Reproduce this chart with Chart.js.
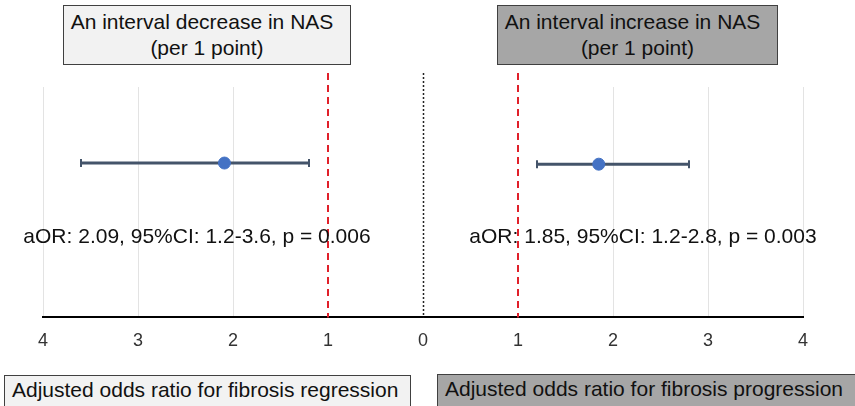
<!DOCTYPE html>
<html>
<head>
<meta charset="utf-8">
<script src="https://cdn.jsdelivr.net/npm/chart.js@4.4.1/dist/chart.umd.min.js"></script>
<style>
  html, body { margin: 0; padding: 0; background: #fff; }
  #wrap { position: relative; width: 855px; height: 406px; overflow: hidden; font-family: "Liberation Sans", Arial, sans-serif; }
  canvas { position: absolute; left: 0; top: 0; }
  .box { position: absolute; box-sizing: border-box; border: 1.5px solid #404040; color: #111; text-align: center; }
  .light { background: #f2f2f2; }
  .dark { background: #a6a6a6; }
  .top { font-size: 21px; line-height: 26px; padding-top: 3px; }
  .top span { margin-right: 10px; }
  .bottom { font-size: 21px; line-height: 28px; text-align: left; padding-left: 7px; }
</style>
</head>
<body>
<div id="wrap">
  <canvas id="chart" width="855" height="406"></canvas>
  <div class="box light top" style="left:63px; top:5px; width:288px; height:60px;"><span>An interval decrease in NAS</span><br>(per 1 point)</div>
  <div class="box dark top" style="left:497px; top:5px; width:281px; height:60px;"><span>An interval increase in NAS</span><br>(per 1 point)</div>
  <div class="box light bottom" style="left:4px; top:375px; width:407px; height:40px;">Adjusted odds ratio for fibrosis regression</div>
  <div class="box dark bottom" style="left:437px; top:374px; width:430px; height:40px;">Adjusted odds ratio for fibrosis progression</div>
</div>
<script>
// left panel is drawn mirrored (negative x), labels show absolute values
const groups = ['decrease', 'increase'];
const side = [-1, 1];
const aOR = [2.09, 1.85];
const ciLow = [1.2, 1.2];
const ciHigh = [3.6, 2.8];
const pValues = ['0.006', '0.003'];
const rowY = [0.67, 0.665];
const xTicks = [-4, -3, -2, -1, 0, 1, 2, 3, 4];

const datasets = [];
groups.forEach((g, i) => {
  datasets.push({
    label: g + ' CI',
    data: [
      { x: side[i] * ciLow[i], y: rowY[i] },
      { x: side[i] * ciHigh[i], y: rowY[i] }
    ],
    showLine: true,
    borderColor: '#44546a',
    borderWidth: 3,
    pointStyle: 'line',
    rotation: 90,
    pointRadius: 4,
    pointBorderColor: '#44546a',
    pointBorderWidth: 2,
    order: 2
  });
  datasets.push({
    label: g + ' aOR',
    data: [{ x: side[i] * aOR[i], y: rowY[i] }],
    pointRadius: 6,
    pointBackgroundColor: '#4472c4',
    pointBorderColor: '#4472c4',
    order: 1
  });
});

const refLines = {
  id: 'refLines',
  beforeDatasetsDraw(chart) {
    const { ctx, chartArea, scales } = chart;
    const bottom = chartArea.bottom;
    const top = chartArea.top - 14;
    ctx.save();
    // red dashed at OR = 1 on both sides
    ctx.strokeStyle = '#e0202a';
    ctx.lineWidth = 2;
    ctx.setLineDash([7, 5]);
    [-1, 1].forEach(v => {
      const x = Math.round(scales.x.getPixelForValue(v));
      ctx.beginPath();
      ctx.moveTo(x, top);
      ctx.lineTo(x, bottom);
      ctx.stroke();
    });
    // black dotted at 0
    ctx.strokeStyle = '#222';
    ctx.lineWidth = 1.5;
    ctx.setLineDash([2, 2]);
    const x0 = Math.round(scales.x.getPixelForValue(0)) + 0.5;
    ctx.beginPath();
    ctx.moveTo(x0, top);
    ctx.lineTo(x0, bottom);
    ctx.stroke();
    ctx.restore();
  },
  afterDatasetsDraw(chart) {
    const { ctx, chartArea } = chart;
    ctx.save();
    ctx.fillStyle = '#111';
    ctx.font = '21px "Liberation Sans", Arial, sans-serif';
    ctx.textAlign = 'center';
    ctx.textBaseline = 'middle';
    const cx = [chartArea.left + 154, chartArea.left + 600];
    groups.forEach((g, i) => {
      const txt = 'aOR: ' + aOR[i].toFixed(2) + ', 95%CI: ' + ciLow[i] + '-' + ciHigh[i] + ', p = ' + pValues[i];
      ctx.fillText(txt, cx[i], 237);
    });
    ctx.restore();
  }
};

new Chart(document.getElementById('chart'), {
  type: 'scatter',
  data: { datasets },
  options: {
    responsive: false,
    animation: false,
    layout: { padding: { left: 43, right: 52, top: 87, bottom: 41 } },
    plugins: { legend: { display: false }, tooltip: { enabled: false } },
    scales: {
      x: {
        type: 'linear',
        min: -4,
        max: 4,
        afterBuildTicks: (axis) => { axis.ticks = xTicks.map(v => ({ value: v })); },
        ticks: {
          callback: (v) => String(Math.abs(v)),
          color: '#333',
          padding: 13,
          font: { size: 18 }
        },
        grid: {
          drawTicks: false,
          color: (c) => (c.tick && Math.abs(c.tick.value) <= 1 ? 'rgba(0,0,0,0)' : '#e3e3e3'),
          lineWidth: 1
        },
        border: { color: '#000', width: 2 }
      },
      y: {
        display: false,
        min: 0,
        max: 1
      }
    }
  },
  plugins: [refLines]
});
</script>
</body>
</html>
